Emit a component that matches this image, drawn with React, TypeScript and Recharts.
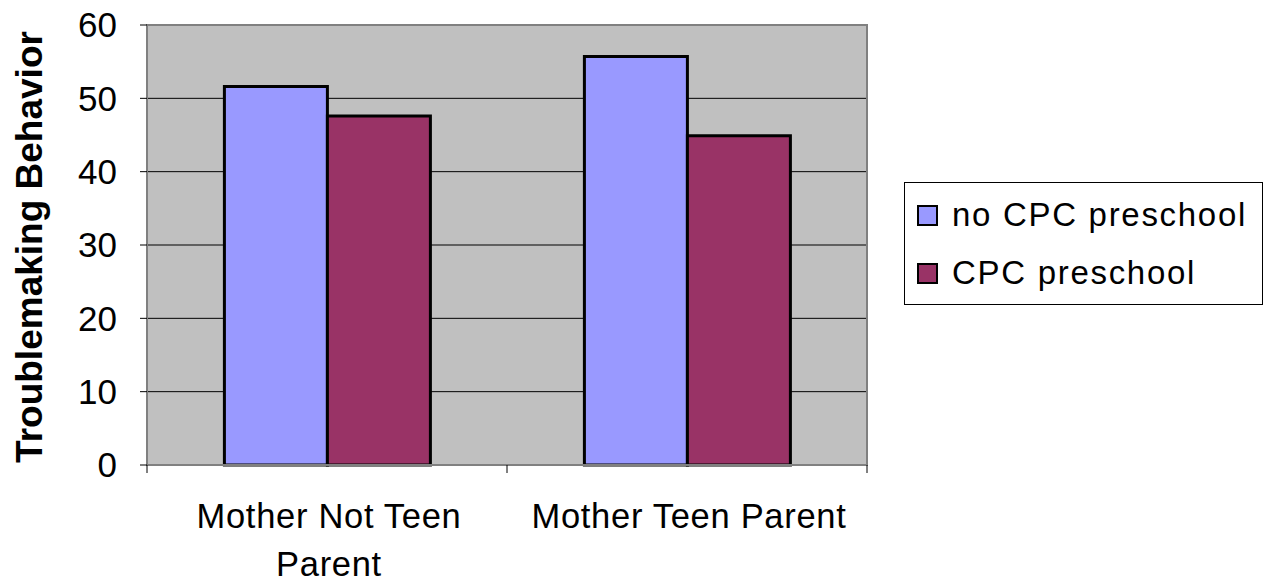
import { BarChart, Bar, XAxis, YAxis, CartesianGrid, ReferenceArea } from 'recharts';

const categories = ['Mother Not Teen Parent', 'Mother Teen Parent'];
const tickLines: Record<string, string[]> = {
  'Mother Not Teen Parent': ['Mother Not Teen', 'Parent'],
  'Mother Teen Parent': ['Mother Teen Parent'],
};
const noCpc = [51.6, 55.7];
const cpc = [47.6, 44.9];
const yTicks = [0, 10, 20, 30, 40, 50, 60];

const series = [
  { key: 'noCpc', name: 'no CPC preschool', color: '#9999FF' },
  { key: 'cpc', name: 'CPC preschool', color: '#993366' },
];

const data = categories.map((name, i) => ({ name, noCpc: noCpc[i], cpc: cpc[i] }));

const FONT = '"Liberation Sans", Arial, sans-serif';

// Category labels, with the tick marks on the band edges like Excel does
function CategoryTick(props: any) {
  const { x, y, payload, index } = props;
  const half = payload?.offset || 180;
  const lines = tickLines[payload.value] ?? [payload.value];
  const last = index === categories.length - 1;
  return (
    <g>
      <line x1={x - half} x2={x - half} y1={y} y2={y + 8} stroke="#000" strokeWidth={1} />
      {last && <line x1={x + half} x2={x + half} y1={y} y2={y + 8} stroke="#000" strokeWidth={1} />}
      {lines.map((ln, i) => (
        <text
          key={ln}
          x={x + 2}
          y={y + 63 + i * 48}
          textAnchor="middle"
          fontSize={34.5}
          letterSpacing={0.7}
          fontFamily={FONT}
          fill="#000"
        >
          {ln}
        </text>
      ))}
    </g>
  );
}

function LegendBox() {
  return (
    <div
      style={{
        position: 'absolute',
        left: 904,
        top: 182,
        width: 357,
        height: 121,
        border: '1px solid #000',
        background: '#fff',
        fontFamily: FONT,
      }}
    >
      {series.map((s, i) => (
        <div
          key={s.key}
          style={{ position: 'absolute', left: 12, top: 14 + i * 58, display: 'flex', alignItems: 'center' }}
        >
          <span
            style={{
              display: 'inline-block',
              width: 17,
              height: 17,
              background: s.color,
              border: '2px solid #000',
              marginRight: 14,
            }}
          />
          <span style={{ fontSize: 33, letterSpacing: 1.7, color: '#000', lineHeight: '36px' }}>{s.name}</span>
        </div>
      ))}
    </div>
  );
}

export default function App() {
  return (
    <div style={{ position: 'absolute', left: 0, top: 0, width: 1270, height: 582, background: '#fff' }}>
      <BarChart
        width={1270}
        height={582}
        data={data}
        margin={{ top: 25, right: 403, bottom: 57, left: 0 }}
        barCategoryGap="21.5%"
        barGap={0}
      >
        <CartesianGrid vertical={false} stroke="#000" strokeWidth={1} fill="#C0C0C0" fillOpacity={1} />
        <XAxis
          dataKey="name"
          height={60}
          axisLine={{ stroke: '#808080', strokeWidth: 2 }}
          tickLine={false}
          tickSize={0}
          tickMargin={0}
          tick={<CategoryTick />}
          interval={0}
        />
        <YAxis
          width={147}
          domain={[0, 60]}
          ticks={yTicks}
          interval={0}
          axisLine={{ stroke: '#808080', strokeWidth: 2 }}
          tickLine={{ stroke: '#000', strokeWidth: 1 }}
          tickSize={7}
          tickMargin={23}
          tick={{ fontSize: 35, fill: '#000', fontFamily: FONT }}
          label={{
            content: () => (
              <text
                x={29}
                y={247}
                transform="rotate(-90 29 247)"
                textAnchor="middle"
                dominantBaseline="central"
                fontSize={37}
                fontWeight="bold"
                fontFamily={FONT}
                fill="#000"
              >
                Troublemaking Behavior
              </text>
            ),
          }}
        />
        {series.map((s) => (
          <Bar
            key={s.key}
            dataKey={s.key}
            name={s.name}
            fill={s.color}
            stroke="#000"
            strokeWidth={3}
            isAnimationActive={false}
          />
        ))}
        <ReferenceArea y1={0} y2={60} fill="none" stroke="#808080" strokeWidth={2} ifOverflow="visible" />
      </BarChart>
      <LegendBox />
    </div>
  );
}
